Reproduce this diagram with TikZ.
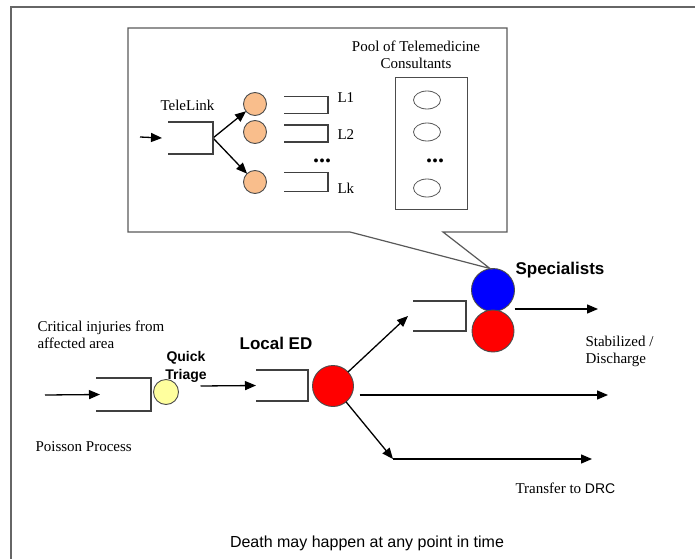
\documentclass[tikz,border=0pt]{standalone}
\usepackage{fontspec}
\setmainfont{Liberation Serif}
\setsansfont{Liberation Sans}
\usetikzlibrary{shapes.geometric, arrows.meta, positioning, calc}
\definecolor{peach}{HTML}{F9BE8C}
\definecolor{lemon}{HTML}{FFFF9E}
\tikzset{
  base/.style = {inner sep=0pt, outer sep=0pt},
  frame/.style = {draw=black!60, line width=1.6pt},
  callout/.style = {draw=black!65, line width=1.2pt},
  queue/.style = {base, minimum width=#1},
  qline/.style = {draw=black!75, line width=1.2pt},
  server/.style = {
    base, circle, draw=black!70, line width=0.9pt, minimum size=#1
  },
  consult/.style = {
    base, ellipse, draw=black!65, line width=0.8pt,
    minimum width=27pt, minimum height=18pt
  },
  serif/.style = {font=\fontsize{15}{17}\selectfont, align=left},
  heading/.style = {font=\sffamily\bfseries\fontsize{17}{19}\selectfont},
  dots/.style = {font=\bfseries\fontsize{24}{24}\selectfont},
  arrow/.style = {line width=1.3pt, -{Triangle[length=11pt, width=9pt]}}
}

\begin{document}
\begin{tikzpicture}[x=1pt, y=-1pt]
  \useasboundingbox (0,0) rectangle (695,559);

  % Outer frame
  \draw[frame] (695,7) -- (11,7) -- (11,559);

  % Telemedicine callout
  \node[base, minimum width=379pt, minimum height=204pt] (tele) at (317.5,130) {};
  \node[server=43pt, fill=blue] (spec) at (493,290) {};
  \coordinate (tip) at ($(spec.north)+(-3,0)$);
  \draw[callout] (tele.north west) -- (tele.north east) -- (tele.south east)
    -- ($(tele.south east)+(-64,0)$) -- (tip)
    -- ($(tele.south west)+(222,0)$) -- (tele.south west) -- cycle;

  \coordinate (tin) at (140,137);
  \node[queue=45pt, minimum height=32pt] (tl) at (190.5,138) {};
  \node[serif, anchor=west] (tllabel) at (157,105) {TeleLink};
  \node[server=23pt, fill=peach] (o1) at (255,104) {};
  \node[server=23pt, fill=peach] (o2) at (255,132) {};
  \node[server=23pt, fill=peach] (ok) at (255,182) {};
  \node[queue=44pt, minimum height=17pt] (q1) at (306,105) {};
  \node[queue=44pt, minimum height=17pt] (q2) at (306,133.5) {};
  \node[queue=44pt, minimum height=19pt] (qk) at (306,182) {};
  \node[serif, anchor=west] (l1) at (334,98) {L1};
  \node[serif, anchor=west] (l2) at (334,135) {L2};
  \node[serif, anchor=west] (lk) at (334,188) {Lk};
  \node[dots] (ldots) at (322,161) {...};

  \node[base, draw=black!70, line width=0.9pt, minimum width=72pt,
    minimum height=132pt] (pool) at (431,143) {};
  \node[serif, align=center] (poollabel) at (416,55)
    {Pool of Telemedicine\\Consultants};
  \node[consult] (c1) at (427,100) {};
  \node[consult] (c2) at (427,132) {};
  \node[consult] (ck) at (427,188) {};
  \node[dots] (cdots) at (435,161) {...};

  \draw[arrow] (tin) -- ([xshift=-6pt]tl.west);
  \draw[arrow] (tl.east) -- (o1);
  \draw[arrow] (tl.east) -- (ok);

  % Main flow
  \node[serif, anchor=west] (inj) at (34,335)
    {Critical injuries from\\affected area};
  \node[serif, anchor=west] (poisson) at (32,447) {Poisson Process};
  \coordinate (src) at (45,395);
  \node[queue=55pt, minimum height=33pt] (qt) at (123.5,394.5) {};
  \node[server=25pt, fill=lemon] (tri) at (166,392) {};
  \node[font=\sffamily\bfseries\fontsize{14}{18}\selectfont, align=center]
    (trilabel) at (186,367) {Quick\\Triage};

  \node[queue=52pt, minimum height=31pt] (qed) at (282,385.5) {};
  \node[heading] (edlabel) at (276,343) {Local ED};
  \node[server=41pt, fill=red] (ed) at (333,386) {};

  \node[queue=53pt, minimum height=30pt] (qsp) at (439.5,316) {};
  \node[server=42pt, fill=red] (spr) at (493,331) {};
  \node[heading, anchor=west] (splabel) at (512,270) {Specialists};

  \coordinate (out1) at (598,309);
  \coordinate (out2) at (608,395);
  \coordinate (dcorner) at (393,459);
  \coordinate (out3) at (592,459);
  \node[serif, anchor=west] (stab) at (582,351) {Stabilized /\\Discharge};
  \node[serif, anchor=west] (drc) at (512,488)
    {Transfer to \textsf{\fontsize{14}{17}\selectfont DRC}};
  \node[font=\sffamily\fontsize{16}{18}\selectfont] (death) at (367,543)
    {Death may happen at any point in time};

  % Queue walls
  \foreach \q in {tl, q1, q2, qk, qt, qed, qsp}
    \draw[qline] (\q.north west) -| (\q.south east) -- (\q.south west);

  % Arrows
  \draw[arrow] (src) -- ([xshift=4pt]qt.west);
  \draw[arrow] ([shift={(22,-6)}]tri.east) -- (qed.west);
  \draw[arrow] (ed) -- ([xshift=-5pt]qsp.west);
  \draw[arrow] ([xshift=6pt]ed.east |- out2) -- (out2);
  \draw[arrow] (ed) -- (dcorner);
  \draw[arrow] (dcorner) -- (out3);
  \draw[arrow] (spec.east |- out1) -- (out1);
\end{tikzpicture}
\end{document}
